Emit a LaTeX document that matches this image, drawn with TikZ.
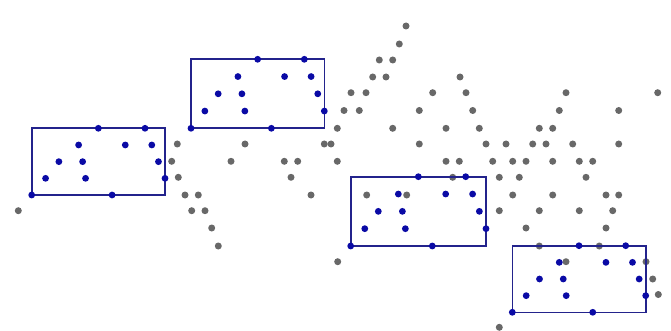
\documentclass[tikz,border=0pt]{standalone}
\definecolor{dotgray}{RGB}{104,104,104}
\definecolor{dotblue}{RGB}{10,10,165}
\definecolor{boxblue}{RGB}{35,35,140}
\begin{document}
\begin{tikzpicture}[x=1pt,y=-1pt,
  graydot/.style={fill=dotgray},
  bluedot/.style={fill=dotblue},
  framebox/.style={draw=boxblue,line width=1.6pt}]
\useasboundingbox (0,0) rectangle (671,331);
% grey points of the sequence
\foreach \y/\xs in {
  26/{406},
  44/{399.3},
  60/{379.3,392.7},
  77/{372.7,386,460},
  92.7/{351,366,432.7,466,566,657.7},
  110.5/{344,359.3,419.3,472.7,559.3,618.7},
  128.3/{337.3,392.7,446,479.3,539.3,552.7},
  144/{177.3,245,324.3,331,419.3,486,506,532.7,546,572.7,618.7},
  161.3/{171.7,231,284.3,297.7,337.3,446,459.3,492.7,512.7,526,552.7,579.3,592.7},
  177.3/{178.3,291,452.7,499.3,519.3,586},
  195/{185,198.3,311,366.7,406.7,512.7,552.7,606,618.7},
  210.7/{18.3,191.7,205,499.3,539.3,579.3,612.7},
  228/{211.7,526,606},
  246/{218.3,539.3,599.3},
  261.7/{337.7,566,646},
  279/{652.7},
  294.5/{658.3},
  327.3/{499.3}} {
  \foreach \x in \xs {
    \fill[graydot] (\x,\y) circle (3.5pt);
  }
}
% boxed copies of the pattern
\foreach \L/\T/\W/\H in {31.7/128.3/133.3/66.7, 191/59.3/133.3/69, 350.7/176.7/135.3/69.3, 512.3/245.7/133.4/66.6} {
  \draw[framebox] (\L,\T) rectangle ({\L+\W},{\T+\H});
  \foreach \u/\v in {0.5/0, 0.85/0, 0.352/0.25, 0.702/0.25, 0.901/0.25, 0.204/0.5, 0.382/0.5, 0.951/0.5, 0.104/0.75, 0.404/0.75, 1/0.75, 0/1, 0.603/1} {
    \fill[bluedot] ({\L+\u*\W},{\T+\v*\H}) circle (3.4pt);
  }
}
\end{tikzpicture}
\end{document}
